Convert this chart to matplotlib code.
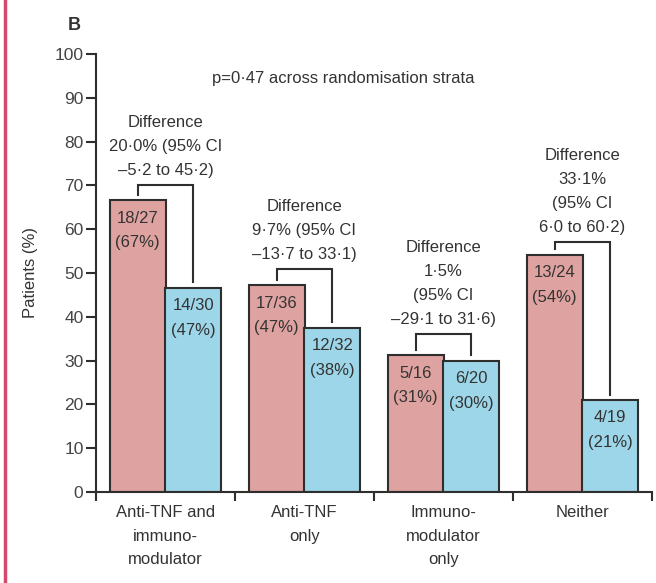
import matplotlib
matplotlib.use("Agg")
import matplotlib.pyplot as plt
from matplotlib.lines import Line2D

plt.rcParams['font.family'] = ['Liberation Sans', 'DejaVu Sans']

# categories (randomisation strata)
categories = ["Anti-TNF and\nimmuno-\nmodulator", "Anti-TNF\nonly",
              "Immuno-\nmodulator\nonly", "Neither"]

# responders / patients per arm
resp_a = [18, 17, 5, 13]
n_a = [27, 36, 16, 24]
resp_b = [14, 12, 6, 4]
n_b = [30, 32, 20, 19]

diff_text = [
    "Difference\n20·0% (95% CI\n–5·2 to 45·2)",
    "Difference\n9·7% (95% CI\n–13·7 to 33·1)",
    "Difference\n1·5%\n(95% CI\n–29·1 to 31·6)",
    "Difference\n33·1%\n(95% CI\n6·0 to 60·2)",
]
bracket_top = [70, 51, 36, 57]

yticks = [0, 10, 20, 30, 40, 50, 60, 70, 80, 90, 100]

PINK = '#dea3a0'
BLUE = '#9dd6e8'
EDGE = '#2e2e2e'
TXT = '#333333'


def main():
    fig = plt.figure(figsize=(6.56, 5.83), dpi=100)
    ax = fig.add_axes([96 / 656, 1 - 492 / 583, 556 / 656, 438 / 583])

    pct_a = [100 * r / n for r, n in zip(resp_a, n_a)]
    pct_b = [100 * r / n for r, n in zip(resp_b, n_b)]
    xs = list(range(len(categories)))
    w = 0.405
    off = 0.2

    ax.bar([x - off for x in xs], pct_a, width=w, color=PINK, edgecolor=EDGE, linewidth=1.5)
    ax.bar([x + off for x in xs], pct_b, width=w, color=BLUE, edgecolor=EDGE, linewidth=1.5)

    # counts inside bars
    for i, x in enumerate(xs):
        for xb, r, n, p in [(x - off, resp_a[i], n_a[i], pct_a[i]),
                            (x + off, resp_b[i], n_b[i], pct_b[i])]:
            ax.text(xb, p - 2.4, f"{r}/{n}\n({int(p + 0.5)}%)", ha='center', va='top',
                    fontsize=12, color=TXT, linespacing=1.8)

    # brackets and difference text
    for i, x in enumerate(xs):
        top = bracket_top[i]
        ax.plot([x - off, x - off, x + off, x + off],
                [pct_a[i] + 1.2, top, top, pct_b[i] + 1.2],
                color=EDGE, lw=1.5, solid_joinstyle='miter')
        ax.text(x, top + 1.6, diff_text[i], ha='center', va='bottom', fontsize=12,
                color=TXT, linespacing=1.75)

    # category labels
    for x, cat in zip(xs, categories):
        ax.text(x, -3.0, cat, ha='center', va='top', fontsize=12, color=TXT,
                linespacing=1.7, clip_on=False)

    ax.text(1.28, 94.5, "p=0·47 across randomisation strata", ha='center', va='center',
            fontsize=12, color=TXT)

    ax.set_xlim(-0.5, 3.5)
    ax.set_ylim(0, 100)
    ax.set_yticks(yticks)
    ax.set_xticks([-0.5, 0.5, 1.5, 2.5, 3.5])
    ax.set_xticklabels([])
    ax.tick_params(axis='y', direction='out', length=7, width=1.5, color=EDGE,
                   labelsize=12.5, labelcolor='#444444', pad=2)
    ax.tick_params(axis='x', direction='out', length=6.5, width=1.5, color=EDGE)
    for s in ['top', 'right']:
        ax.spines[s].set_visible(False)
    for s in ['left', 'bottom']:
        ax.spines[s].set_linewidth(1.5)
        ax.spines[s].set_color(EDGE)

    ax.set_ylabel("Patients (%)", fontsize=12, color=TXT)
    ax.yaxis.set_label_coords(-0.104, 0.5)

    fig.text(74 / 656, 1 - 25 / 583, "B", fontsize=13, fontweight='bold', color=TXT,
             ha='center', va='center')
    fig.add_artist(Line2D([5 / 656, 5 / 656], [0, 1], color='#d6496f', lw=2.5))

    fig.savefig("out.png", dpi=100)


if __name__ == "__main__":
    main()
